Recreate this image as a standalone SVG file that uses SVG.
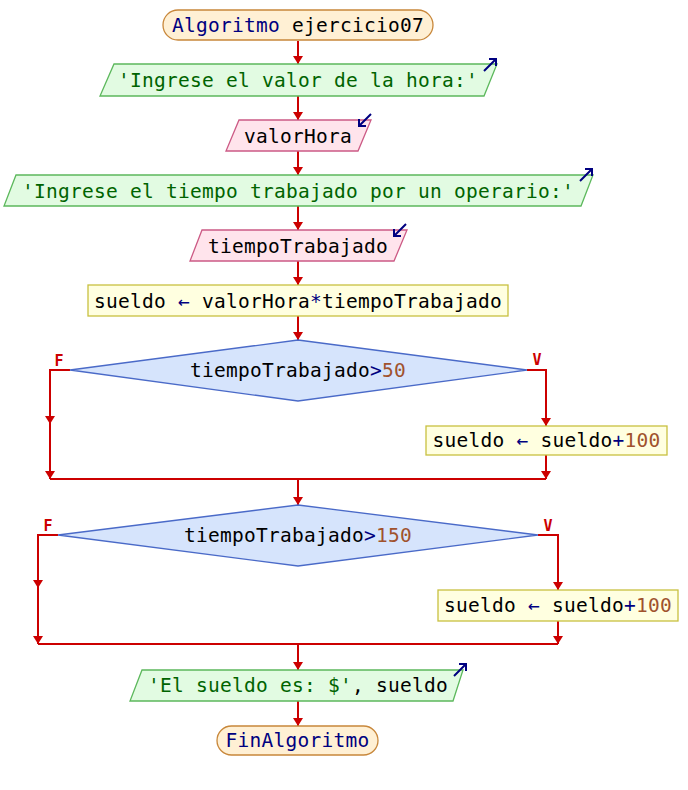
<svg xmlns="http://www.w3.org/2000/svg" width="688" height="790" viewBox="0 0 688 790">
<style>
.t{font-family:"DejaVu Sans Mono","Liberation Mono",monospace;font-size:19.5px;letter-spacing:0.26px;fill:#000}
.kw{fill:#000080}.op{fill:#000080}.str{fill:#006400}.num{fill:#a0522d}
.term{fill:#fff0d4;stroke:#c8873a;stroke-width:1.3}
.out{fill:#e2fbe2;stroke:#5cb85c;stroke-width:1.3}
.in{fill:#ffe4ec;stroke:#cc5a85;stroke-width:1.3}
.asg{fill:#ffffe0;stroke:#c8c040;stroke-width:1.3}
.dec{fill:#d6e4fc;stroke:#4a6ac8;stroke-width:1.3}
.c{fill:none;stroke:#cc0000;stroke-width:2}
.lbl{font-family:"DejaVu Sans Mono","Liberation Mono",monospace;font-size:15px;font-weight:bold;fill:#cc0000}
.ico{fill:none;stroke:#000080;stroke-width:2}
</style>
<defs>
<marker id="ah" markerUnits="userSpaceOnUse" markerWidth="8" markerHeight="10" viewBox="0 0 8 10" refX="8" refY="5" orient="auto">
<path d="M0,0 L8,5 L0,10 z" fill="#cc0000"/>
</marker>
</defs>
<g id="connectors">
<line class="c" x1="298" y1="41" x2="298" y2="64" marker-end="url(#ah)"/>
<line class="c" x1="298" y1="96" x2="298" y2="120" marker-end="url(#ah)"/>
<line class="c" x1="298" y1="151" x2="298" y2="175" marker-end="url(#ah)"/>
<line class="c" x1="298" y1="206" x2="298" y2="230" marker-end="url(#ah)"/>
<line class="c" x1="298" y1="261" x2="298" y2="285" marker-end="url(#ah)"/>
<line class="c" x1="298" y1="316" x2="298" y2="340" marker-end="url(#ah)"/>
<polyline class="c" points="70,370 50,370 50,424" marker-end="url(#ah)"/>
<line class="c" x1="50" y1="424" x2="50" y2="479" marker-end="url(#ah)"/>
<polyline class="c" points="527,370 546,370 546,426" marker-end="url(#ah)"/>
<line class="c" x1="546" y1="455" x2="546" y2="479" marker-end="url(#ah)"/>
<line class="c" x1="50" y1="479" x2="546" y2="479"/>
<line class="c" x1="298" y1="479" x2="298" y2="505" marker-end="url(#ah)"/>
<polyline class="c" points="58,535 38,535 38,588" marker-end="url(#ah)"/>
<line class="c" x1="38" y1="588" x2="38" y2="644" marker-end="url(#ah)"/>
<polyline class="c" points="538,535 558,535 558,590" marker-end="url(#ah)"/>
<line class="c" x1="558" y1="621" x2="558" y2="644" marker-end="url(#ah)"/>
<line class="c" x1="38" y1="644" x2="558" y2="644"/>
<line class="c" x1="298" y1="644" x2="298" y2="670" marker-end="url(#ah)"/>
<line class="c" x1="298" y1="701" x2="298" y2="726" marker-end="url(#ah)"/>
<text class="lbl" x="59" y="366" text-anchor="middle">F</text>
<text class="lbl" x="537" y="365" text-anchor="middle">V</text>
<text class="lbl" x="48" y="531" text-anchor="middle">F</text>
<text class="lbl" x="548" y="531" text-anchor="middle">V</text>
</g>
<g id="start">
<rect class="term" x="163" y="10" width="270" height="30" rx="15"/>
<text class="t" x="298" y="32" text-anchor="middle"><tspan class="kw">Algoritmo</tspan> ejercicio07</text>
</g>
<g id="out1">
<polygon class="out" points="114,64 497,64 484,96 100,96"/>
<text class="t" x="298" y="87" text-anchor="middle"><tspan class="str">'Ingrese el valor de la hora:'</tspan></text>
<path class="ico" d="M484,71 L496,59 M489,59 L496,59 L496,66"/>
</g>
<g id="in1">
<polygon class="in" points="239,120 371,120 358,151 226,151"/>
<text class="t" x="298" y="143" text-anchor="middle">valorHora</text>
<path class="ico" d="M371,114 L359,126 M359,119 L359,126 L366,126"/>
</g>
<g id="out2">
<polygon class="out" points="16,175 593,175 581,206 4,206"/>
<text class="t" x="298" y="198" text-anchor="middle"><tspan class="str">'Ingrese el tiempo trabajado por un operario:'</tspan></text>
<path class="ico" d="M580,181 L592,169 M585,169 L592,169 L592,176"/>
</g>
<g id="in2">
<polygon class="in" points="202,230 407,230 394,261 190,261"/>
<text class="t" x="298" y="253" text-anchor="middle">tiempoTrabajado</text>
<path class="ico" d="M406,224 L394,236 M394,229 L394,236 L401,236"/>
</g>
<g id="assign1">
<rect class="asg" x="88" y="285" width="420" height="31"/>
<text class="t" x="298" y="308" text-anchor="middle">sueldo <tspan class="op">←</tspan> valorHora<tspan class="op">*</tspan>tiempoTrabajado</text>
</g>
<g id="dec1">
<polygon class="dec" points="298,340 527,370 298,401 70,370"/>
<text class="t" x="298" y="377" text-anchor="middle">tiempoTrabajado<tspan class="op">&gt;</tspan><tspan class="num">50</tspan></text>
</g>
<g id="assign2">
<rect class="asg" x="426" y="426" width="241" height="29"/>
<text class="t" x="546.5" y="447" text-anchor="middle">sueldo <tspan class="op">←</tspan> sueldo<tspan class="op">+</tspan><tspan class="num">100</tspan></text>
</g>
<g id="dec2">
<polygon class="dec" points="298,505 538,535 298,566 58,535"/>
<text class="t" x="298" y="542" text-anchor="middle">tiempoTrabajado<tspan class="op">&gt;</tspan><tspan class="num">150</tspan></text>
</g>
<g id="assign3">
<rect class="asg" x="438" y="590" width="240" height="31"/>
<text class="t" x="558" y="612" text-anchor="middle">sueldo <tspan class="op">←</tspan> sueldo<tspan class="op">+</tspan><tspan class="num">100</tspan></text>
</g>
<g id="out3">
<polygon class="out" points="142,670 463,670 453,701 130,701"/>
<text class="t" x="298" y="692" text-anchor="middle"><tspan class="str">'El sueldo es: $'</tspan>, sueldo</text>
<path class="ico" d="M454,676 L466,664 M459,664 L466,664 L466,671"/>
</g>
<g id="end">
<rect class="term" x="217" y="726" width="161" height="29" rx="14.5"/>
<text class="t" x="297.5" y="747" text-anchor="middle"><tspan class="kw">FinAlgoritmo</tspan></text>
</g>
</svg>
